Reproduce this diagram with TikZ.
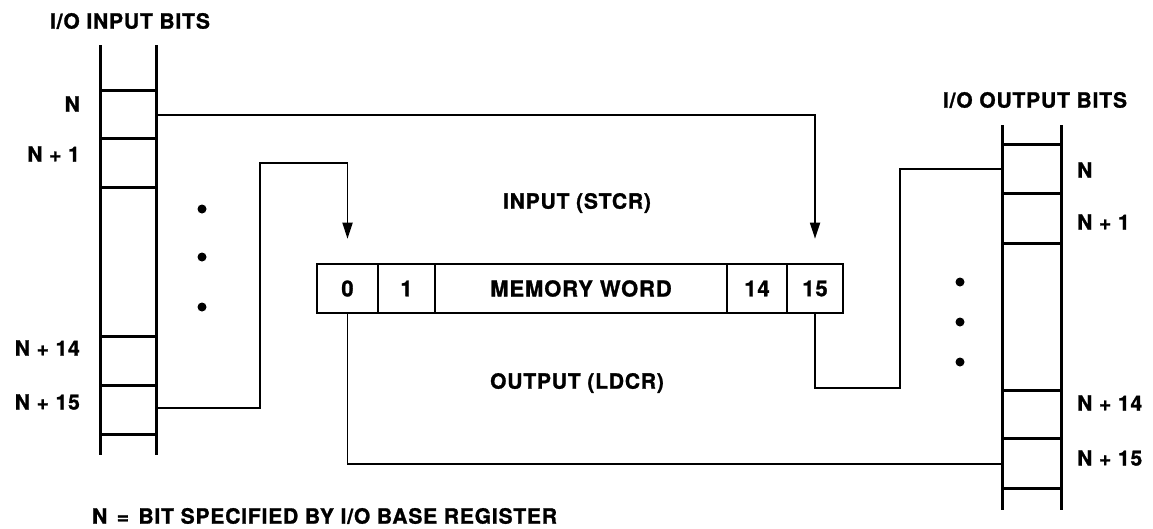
\documentclass[tikz,border=0pt]{standalone}
\usepackage{fontspec}
\setmainfont{TeX Gyre Heros}[LetterSpace=4, BoldFeatures={FakeBold=1.2}]
\usetikzlibrary{arrows.meta}
\begin{document}
\begin{tikzpicture}[x=1pt,y=-1pt,
  txt/.style={font=\fontsize{21}{24}\selectfont\bfseries, inner sep=0pt},
  rail/.style={line width=3pt},
  rung/.style={line width=3pt},
  wire/.style={line width=1.8pt},
  arr/.style={wire,-{Triangle[width=10pt,length=16pt]}},
  bitcell/.style={draw, line width=2.6pt, minimum height=49pt, inner sep=0pt,
    font=\fontsize{22}{24}\selectfont\bfseries},
  dotmark/.style={circle, fill, inner sep=0pt, minimum size=9pt}]
\useasboundingbox (0,0) rectangle (1153,528);

% ---------- input ladder ----------
\node[txt] (tin) at (130,21) {I/O INPUT BITS};
\draw[rail] (100,45) -- (100,455);
\draw[rail] (156,45) -- (156,455);
\foreach \yy in {90,138,187,336,385,434} \draw[rung] (100,\yy) -- (156,\yy);
\node[txt,anchor=east] (lN)   at (80,104) {N};
\node[txt,anchor=east] (lN1)  at (80,154) {N + 1};
\node[txt,anchor=east] (lN14) at (80,348) {N + 14};
\node[txt,anchor=east] (lN15) at (80,402) {N + 15};
\coordinate (inN)  at (156,115);
\coordinate (in15) at (156,408);
\node[dotmark] (d1) at (202,209) {};
\node[dotmark] (d2) at (202,257) {};
\node[dotmark] (d3) at (202,307) {};

% ---------- memory word ----------
\node[bitcell, minimum width=61pt]  (m0)  at (347.5,288.5) {0};
\node[bitcell, minimum width=57pt]  (m1)  at (406.5,288.5) {1};
\node[bitcell, minimum width=292pt] (mw)  at (581,288.5)   {MEMORY WORD};
\node[bitcell, minimum width=60pt]  (m14) at (757,288.5)   {14};
\node[bitcell, minimum width=56pt]  (m15) at (815,288.5)   {15};

\node[txt] (lin)  at (577,203) {INPUT (STCR)};
\node[txt] (lout) at (577,383) {OUTPUT (LDCR)};

% ---------- output ladder ----------
\node[txt] (tout) at (1035,100) {I/O OUTPUT BITS};
\draw[rail] (1002,125) -- (1002,510);
\draw[rail] (1061,125) -- (1061,510);
\foreach \yy in {144,193,243,390,438,488} \draw[rung] (1002,\yy) -- (1061,\yy);
\node[txt,anchor=west] (rN)   at (1077,170) {N};
\node[txt,anchor=west] (rN1)  at (1077,222) {N + 1};
\node[txt,anchor=west] (rN14) at (1077,403) {N + 14};
\node[txt,anchor=west] (rN15) at (1077,458) {N + 15};
\coordinate (outN)  at (1002,169);
\coordinate (out15) at (1002,464);
\node[dotmark] (e1) at (960,282) {};
\node[dotmark] (e2) at (960,322) {};
\node[dotmark] (e3) at (960,362) {};

% ---------- connectors ----------
\coordinate (b1) at (260,163);
\coordinate (c1) at (900,388);
\draw[arr] (inN) -| ([yshift=24pt]m15.north);
\draw[arr] (in15) -| (b1) -| ([yshift=24pt]m0.north);
\draw[wire] (m0.south) |- (out15);
\draw[wire] (m15.south) |- (c1) |- (outN);

% ---------- note ----------
\node[txt,anchor=west] (note) at (92,516) {N\hspace{0.45em}=\hspace{0.45em}BIT SPECIFIED BY I/O BASE REGISTER};
\end{tikzpicture}
\end{document}
